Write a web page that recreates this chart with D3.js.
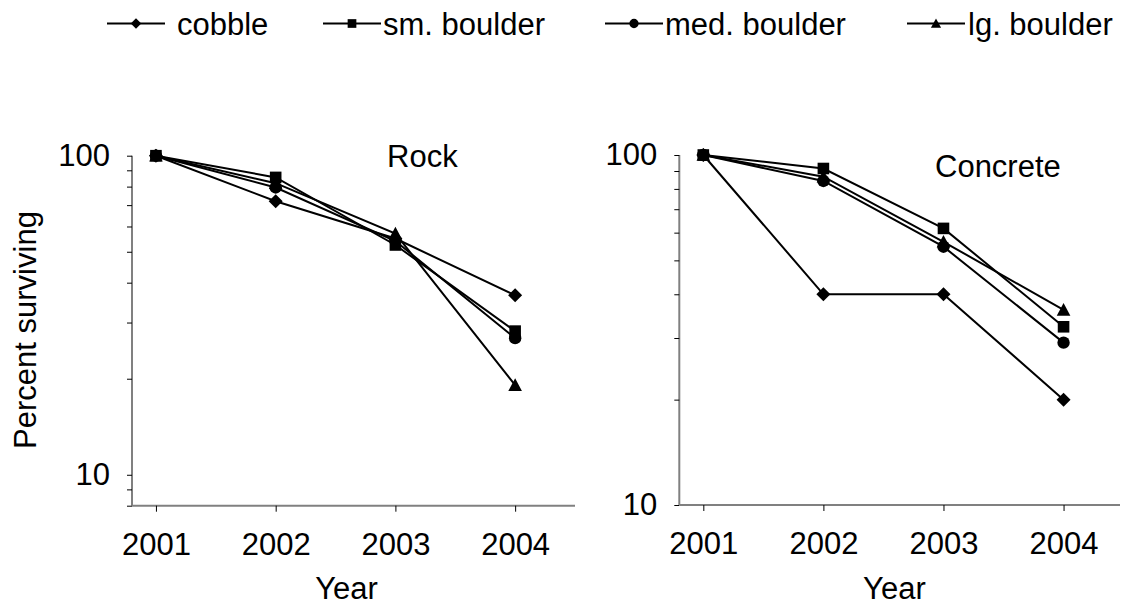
<!DOCTYPE html>
<html>
<head>
<meta charset="utf-8">
<script src="https://d3js.org/d3.v7.min.js"></script>
<title>Percent surviving</title>
<style>
  body { margin: 0; background: #fff; }
  text { font-family: "Liberation Sans", Arial, sans-serif; fill: #000; }
</style>
</head>
<body>
<div id="chart"></div>
<script>
// data
var years = [2001, 2002, 2003, 2004];
var seriesNames = ["cobble", "sm. boulder", "med. boulder", "lg. boulder"];
var seriesShapes = ["diamond", "square", "circle", "triangle"];

var rockCobble = [100, 72, 55, 36.5];
var rockSmall  = [100, 85.5, 52.5, 28.2];
var rockMed    = [100, 79.5, 54, 26.8];
var rockLarge  = [100, 82, 57, 19.1];

var concCobble = [100, 40, 40, 20];
var concSmall  = [100, 91.5, 61.7, 32.3];
var concMed    = [100, 84.3, 54.7, 29.1];
var concLarge  = [100, 86.7, 56.5, 36.1];

var panelTitles = ["Rock", "Concrete"];
var yMajor = [10, 100];

var W = 1123, H = 606;
var svg = d3.select("#chart").append("svg")
    .attr("width", W)
    .attr("height", H);

// marker shapes, Excel style
function marker(shape, s) {
  if (shape == "diamond") {
    var r = 7 * s;
    return "M0," + (-r) + "L" + r + ",0L0," + r + "L" + (-r) + ",0Z";
  }
  if (shape == "square") {
    var h = 5.8 * s;
    return "M" + (-h) + "," + (-h) + "H" + h + "V" + h + "H" + (-h) + "Z";
  }
  if (shape == "circle") {
    var c = 6.2 * s;
    return "M" + c + ",0A" + c + "," + c + " 0 1,1 " + (-c) + ",0A" + c + "," + c + " 0 1,1 " + c + ",0Z";
  }
  var t = 6.8 * s;
  return "M0," + (-t) + "L" + t + "," + (t * 0.85) + "L" + (-t) + "," + (t * 0.85) + "Z";
}

function drawPanel(cfg) {
  var x = d3.scaleLinear().domain(cfg.xDomain).range(cfg.xRange);
  var y = d3.scaleLog().domain(cfg.yDomain).range(cfg.yRange);
  var g = svg.append("g");

  // y axis
  var yTicks = d3.range(cfg.yDomain[0], 100.5, 1).filter(function(v) {
    return v < 10 || v % 10 == 0;
  });
  var yAxis = g.append("g")
    .attr("transform", "translate(" + cfg.xRange[0] + ",0)")
    .call(d3.axisLeft(y).tickValues(yTicks).tickSize(5).tickPadding(17)
      .tickFormat(function(d) { return yMajor.indexOf(d) >= 0 ? d : ""; }));
  yAxis.select(".domain").attr("stroke", "#808080").attr("stroke-width", 2).attr("d",
    "M0," + cfg.yRange[0] + "V" + cfg.yRange[1]);
  yAxis.selectAll(".tick line").attr("stroke", "#000");
  yAxis.selectAll("text").style("font-size", "31px").attr("fill", "#000");

  // x axis
  var xAxis = g.append("g")
    .attr("transform", "translate(0," + cfg.yRange[0] + ")")
    .call(d3.axisBottom(x).tickValues(years).tickSize(6).tickPadding(21)
      .tickFormat(d3.format("d")));
  xAxis.select(".domain").attr("stroke", "#808080").attr("stroke-width", 2).attr("d",
    "M" + cfg.xRange[0] + ",0H" + cfg.xRange[1]);
  xAxis.selectAll(".tick line").attr("stroke", "#000");
  xAxis.selectAll("text").style("font-size", "31px").attr("fill", "#000");

  g.append("text")
    .attr("x", (x(2001) + x(2004)) / 2 + 11)
    .attr("y", 599)
    .attr("text-anchor", "middle")
    .style("font-size", "31px")
    .text("Year");

  g.append("text")
    .attr("x", cfg.titlePos[0])
    .attr("y", cfg.titlePos[1])
    .style("font-size", "31px")
    .text(cfg.title);

  var line = d3.line()
    .x(function(d, i) { return x(years[i]); })
    .y(function(d) { return y(d); });

  cfg.series.forEach(function(vals, k) {
    g.append("path")
      .attr("d", line(vals))
      .attr("fill", "none")
      .attr("stroke", "#000")
      .attr("stroke-width", 2);
    g.selectAll(null)
      .data(vals)
      .enter()
      .append("path")
      .attr("transform", function(d, i) { return "translate(" + x(years[i]) + "," + y(d) + ")"; })
      .attr("d", marker(seriesShapes[k], 1))
      .attr("fill", "#000");
  });
}

drawPanel({
  title: panelTitles[0],
  titlePos: [387, 167],
  xDomain: [2000.8, 2004.5], xRange: [132, 575],
  yDomain: [8, 100], yRange: [505.7, 155.7],
  series: [rockCobble, rockSmall, rockMed, rockLarge]
});

drawPanel({
  title: panelTitles[1],
  titlePos: [935, 177],
  xDomain: [2000.8, 2004.47], xRange: [679.3, 1120],
  yDomain: [10, 100], yRange: [505, 155],
  series: [concCobble, concSmall, concMed, concLarge]
});

// y label
svg.append("text")
  .attr("transform", "translate(36,330) rotate(-90)")
  .attr("text-anchor", "middle")
  .style("font-size", "31px")
  .text("Percent surviving");

// legend
var legX = [107, 323, 605, 907];
var legTextX = [177, 383, 665, 968];
var leg = svg.append("g");
seriesNames.forEach(function(name, k) {
  leg.append("line")
    .attr("x1", legX[k]).attr("x2", legX[k] + 58)
    .attr("y1", 23.5).attr("y2", 23.5)
    .attr("stroke", "#000").attr("stroke-width", 2);
  leg.append("path")
    .attr("transform", "translate(" + (legX[k] + 29) + ",23.5)")
    .attr("d", marker(seriesShapes[k], 0.75))
    .attr("fill", "#000");
  leg.append("text")
    .attr("x", legTextX[k])
    .attr("y", 34.5)
    .style("font-size", "31px")
    .text(name);
});
</script>
</body>
</html>
